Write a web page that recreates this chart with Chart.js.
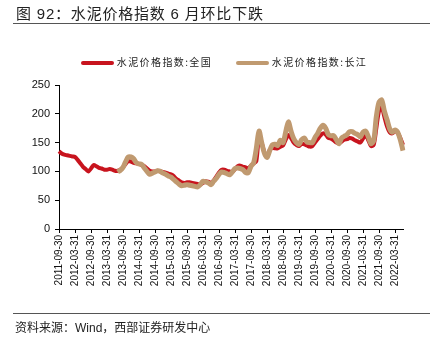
<!DOCTYPE html>
<html>
<head>
<meta charset="UTF-8">
<title>水泥价格指数</title>
<script src="https://cdn.jsdelivr.net/npm/chart.js@4/dist/chart.umd.min.js"></script>
<style>
	body { margin: 0; width: 440px; height: 345px; position: relative; background: #fff; font-family: "Liberation Sans", "Noto Sans CJK SC", sans-serif; overflow: hidden; }
	#title { position: absolute; left: 16px; top: 2px; font-size: 15px; color: #222; font-family: "Liberation Sans", "Noto Sans CJK SC", sans-serif; letter-spacing: 0.8px; }
	.rule { position: absolute; left: 13px; width: 417px; height: 1px; background: #555; }
	#legend { position: absolute; top: 54px; left: 4px; width: 440px; text-align: center; font-size: 10px; color: #222; font-family: "Noto Sans CJK SC", sans-serif; letter-spacing: 1.4px; }
	.item { display: inline-block; margin: 0 10px; }
	.sw { display: inline-block; width: 33px; height: 4px; vertical-align: middle; margin-right: 3px; border-radius: 2px; }
	#source { position: absolute; left: 15px; top: 318px; font-size: 12px; color: #222; font-family: "Liberation Sans", "Noto Sans CJK SC", sans-serif; }
	#wrap { position: absolute; left: 0; top: 0; width: 440px; height: 345px; }
</style>
</head>
<body>
	<div id="wrap"><canvas id="cementChart" width="440" height="345"></canvas></div>
	<div id="title">图 92：水泥价格指数 6 月环比下跌</div>
	<div class="rule" style="top:23px"></div>
	<div id="legend">
		<span class="item"><span class="sw" style="background:#C8141E"></span>水泥价格指数:全国</span>
		<span class="item"><span class="sw" style="background:#C09A70"></span>水泥价格指数:长江</span>
	</div>
	<div class="rule" style="top:313px"></div>
	<div id="source">资料来源：Wind，西部证券研发中心</div>
<script>
	// monthly, 2011-09 .. 2022-06
	var startYear = 2011, startMonth = 9, monthCount = 130;

	var nationalIndex = [
		135, 131, 129, 128, 127, 126, 125, 120, 114, 108,
		104, 100, 105, 111, 109, 106, 105, 103, 103, 104,
		103, 101, 101, 103, 107, 113, 118, 117, 115, 114,
		113, 111, 109, 105, 101, 100, 100, 101, 100, 99,
		98, 96, 95, 92, 87, 84, 81, 80, 81, 81,
		80, 79, 78, 77, 80, 83, 82, 80, 84, 91,
		98, 103, 103, 101, 100, 99, 104, 109, 110, 108,
		107, 105, 110, 114, 118, 160, 150, 133, 125, 137,
		141, 140, 140, 143, 145, 155, 163, 158, 150, 146,
		144, 148, 147, 145, 143, 144, 150, 156, 162, 166,
		164, 158, 157, 154, 150, 149, 152, 155, 156, 158,
		157, 154, 152, 150, 157, 163, 154, 144, 146, 175,
		205, 212, 195, 178, 168, 166, 170, 167, 158, 146
	];

	var yangtzeIndex = [
		null, null, null, null, null, null, null, null, null, null,
		null, null, null, null, null, null, null, null, null, null,
		null, null, 99, 102, 107, 117, 125, 125, 122, 115,
		113, 112, 106, 100, 95, 97, 99, 101, 100, 97,
		95, 92, 90, 86, 82, 78, 75, 76, 77, 76,
		75, 74, 73, 77, 83, 82, 80, 77, 83, 88,
		95, 99, 98, 96, 94, 99, 105, 106, 105, 103,
		98, 98, 109, 115, 140, 170, 150, 132, 124, 136,
		146, 147, 145, 154, 150, 168, 186, 170, 157, 150,
		147, 155, 158, 151, 150, 150, 159, 166, 175, 180,
		175, 164, 162, 162, 155, 148, 158, 161, 164, 169,
		169, 166, 164, 160, 168, 170, 160, 148, 153, 195,
		220, 224, 205, 190, 174, 168, 172, 168, 155, 136
	];

	var yTicks = [0, 50, 100, 150, 200, 250];

	// month-end date labels
	var dateLabels = [];
	for (var i = 0; i < monthCount; i++) {
		var m = startMonth - 1 + i;
		var y = startYear + Math.floor(m / 12);
		var mm = m % 12 + 1;
		var d = new Date(y, mm, 0).getDate();
		dateLabels.push(y + "-" + (mm < 10 ? "0" + mm : mm) + "-" + d);
	}

	var ctx = document.getElementById("cementChart").getContext("2d");
	var cementChart = new Chart(ctx, {
		type: "line",
		data: {
			labels: dateLabels,
			datasets: [
				{ label: "水泥价格指数:全国", data: nationalIndex, borderColor: "#C8141E", borderWidth: 4, pointRadius: 0, tension: 0.3, order: 2 },
				{ label: "水泥价格指数:长江", data: yangtzeIndex, borderColor: "#C09A70", borderWidth: 5, pointRadius: 0, tension: 0.3, order: 1 }
			]
		},
		options: {
			responsive: false,
			animation: false,
			layout: { padding: { top: 85, right: 37, bottom: 53, left: 0 } },
			plugins: { legend: { display: false }, tooltip: { enabled: false } },
			scales: {
				x: {
					offset: false,
					border: { color: "#000", width: 1 },
					grid: { drawOnChartArea: false, drawTicks: true, tickLength: 4, color: "#000" },
					ticks: {
						autoSkip: false, minRotation: 90, maxRotation: 90, padding: 2,
						color: "#111", font: { family: "Liberation Sans", size: 10 },
						callback: function (v, idx) { return idx % 6 === 0 ? dateLabels[idx] : null; }
					},
					afterFit: function (s) { s.height = 63; }
				},
				y: {
					min: 0, max: 250,
					border: { color: "#000", width: 1 },
					grid: { drawOnChartArea: false, drawTicks: true, tickLength: 4, color: "#000" },
					afterBuildTicks: function (s) { s.ticks = yTicks.map(function (v) { return { value: v }; }); },
					ticks: { color: "#111", padding: 5, font: { family: "Liberation Sans", size: 11 } },
					afterFit: function (s) { s.width = 59; }
				}
			}
		}
	});
</script>
</body>
</html>
